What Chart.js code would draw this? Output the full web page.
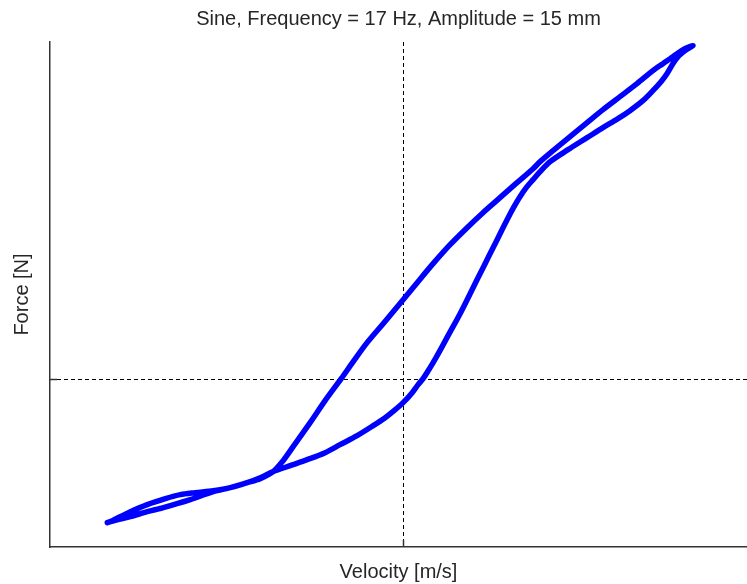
<!DOCTYPE html>
<html>
<head>
<meta charset="utf-8">
<title>Damper force loop</title>
<script src="https://cdn.jsdelivr.net/npm/chart.js@4/dist/chart.umd.min.js"></script>
<style>
  html, body { margin: 0; padding: 0; background: #fff; }
  canvas { display: block; }
</style>
</head>
<body>
<canvas id="loopChart" width="747" height="584"></canvas>
<script>
// compression stroke: velocity rising from the negative peak to the positive peak
const velocityUp = [
  -1.600, -1.541, -1.476, -1.384, -1.297, -1.151, -1.027, -0.935, -0.843, -0.773,
  -0.703, -0.611, -0.519, -0.422, -0.341, -0.249, -0.162, -0.097, -0.049, 0.000,
  0.049, 0.081, 0.108, 0.146, 0.178, 0.211, 0.243, 0.276, 0.308, 0.341,
  0.373, 0.405, 0.438, 0.470, 0.503, 0.535, 0.568, 0.600, 0.632, 0.670,
  0.703, 0.741, 0.795, 0.892, 0.995, 1.081, 1.162, 1.227, 1.297, 1.351,
  1.395, 1.427, 1.459, 1.492, 1.524, 1.568
];
const forceUp = [
  -864, -846, -828, -798, -774, -726, -678, -654, -624, -594,
  -558, -522, -486, -444, -396, -342, -282, -234, -192, -144,
  -84, -36, 0, 66, 126, 192, 258, 324, 390, 462,
  534, 606, 678, 750, 822, 894, 966, 1032, 1092, 1152,
  1194, 1242, 1302, 1374, 1446, 1506, 1560, 1608, 1668, 1728,
  1782, 1830, 1890, 1938, 1968, 1998
];

// return stroke: velocity falling back to the negative peak
const velocityDown = [
  1.524, 1.459, 1.405, 1.351, 1.265, 1.173, 1.081, 0.995, 0.903, 0.811,
  0.741, 0.703, 0.616, 0.524, 0.432, 0.346, 0.254, 0.162, 0.076, 0.000,
  -0.054, -0.108, -0.195, -0.270, -0.335, -0.422, -0.503, -0.595, -0.649, -0.703,
  -0.773, -0.843, -0.935, -1.027, -1.124, -1.205, -1.286, -1.384, -1.486, -1.573
];
const forceDown = [
  1980, 1932, 1890, 1848, 1770, 1692, 1614, 1536, 1452, 1368,
  1302, 1260, 1176, 1086, 996, 906, 804, 690, 576, 474,
  402, 330, 216, 102, 0, -132, -264, -408, -492, -558,
  -600, -624, -654, -672, -684, -696, -720, -756, -804, -852
];

const titleText = 'Sine, Frequency = 17 Hz, Amplitude = 15 mm';
const xLabel = 'Velocity [m/s]';
const yLabel = 'Force [N]';

// one closed loop: up stroke, down stroke, back to the start
const loopPoints = [];
velocityUp.forEach((v, i) => loopPoints.push({ x: v, y: forceUp[i] }));
velocityDown.forEach((v, i) => loopPoints.push({ x: v, y: forceDown[i] }));
loopPoints.push({ x: velocityUp[0], y: forceUp[0] });

const textColor = '#262626';
const fontFamily = '"Liberation Sans", Arial, Helvetica, sans-serif';

// dashed zero lines plus the short inward tick at zero on each axis
const zeroLines = {
  id: 'zeroLines',
  beforeDatasetsDraw(chart) {
    const { ctx, chartArea: a, scales: { x, y } } = chart;
    const x0 = Math.round(x.getPixelForValue(0)) + 0.5;
    const y0 = Math.round(y.getPixelForValue(0)) + 0.5;
    ctx.save();
    ctx.lineWidth = 1;
    ctx.strokeStyle = '#000';
    ctx.setLineDash([4, 3]);
    ctx.beginPath();
    ctx.moveTo(x0, a.top);
    ctx.lineTo(x0, a.bottom);
    ctx.moveTo(a.left, y0);
    ctx.lineTo(a.right, y0);
    ctx.stroke();
    ctx.setLineDash([]);
    ctx.strokeStyle = '#333';
    ctx.lineWidth = 1.5;
    ctx.beginPath();
    ctx.moveTo(x0, a.bottom);
    ctx.lineTo(x0, a.bottom - 7);
    ctx.moveTo(a.left, y0);
    ctx.lineTo(a.left + 7, y0);
    ctx.stroke();
    ctx.restore();
  }
};

new Chart(document.getElementById('loopChart'), {
  type: 'scatter',
  data: {
    datasets: [{
      data: loopPoints,
      showLine: true,
      borderColor: '#0000ff',
      borderWidth: 5.5,
      borderJoinStyle: 'round',
      borderCapStyle: 'round',
      tension: 0.3,
      pointRadius: 0,
      pointHoverRadius: 0,
      fill: false
    }]
  },
  options: {
    responsive: false,
    animation: false,
    layout: { padding: 0, autoPadding: false },
    plugins: {
      legend: { display: false },
      tooltip: { enabled: false },
      title: {
        display: true,
        text: titleText,
        fullSize: false,
        color: textColor,
        font: { family: fontFamily, size: 20, weight: 'normal' },
        padding: { top: 7, bottom: 11 }
      }
    },
    scales: {
      x: {
        type: 'linear',
        min: -1.91,
        max: 1.86,
        grid: { display: false, drawTicks: false },
        border: { display: true, color: '#333', width: 1.5 },
        ticks: { display: false },
        title: {
          display: true,
          text: xLabel,
          color: textColor,
          font: { family: fontFamily, size: 20 },
          padding: { top: 13, bottom: 0 }
        }
      },
      y: {
        type: 'linear',
        min: -1010,
        max: 2020,
        grid: { display: false, drawTicks: false },
        border: { display: true, color: '#333', width: 1.5 },
        ticks: { display: false },
        title: {
          display: true,
          text: yLabel,
          color: textColor,
          font: { family: fontFamily, size: 20 },
          padding: { top: 10, bottom: 16 }
        }
      }
    }
  },
  plugins: [zeroLines]
});
</script>
</body>
</html>
